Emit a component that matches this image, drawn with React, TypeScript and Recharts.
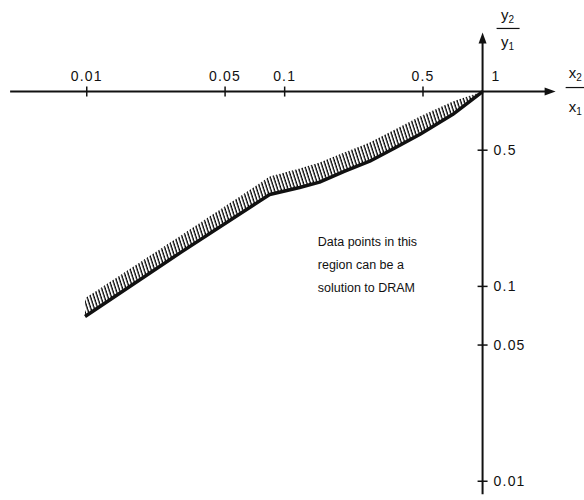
import React from 'react'
import { ComposedChart, Area, Line, XAxis, YAxis, ReferenceLine, ReferenceDot } from 'recharts'

// boundary of the DRAM region
const X_VALUES = [0.0098, 0.03, 0.084, 0.119, 0.15, 0.2, 0.269, 0.36, 0.481, 0.705, 1]
const LOWER = [0.07, 0.15, 0.296, 0.322, 0.343, 0.389, 0.439, 0.513, 0.602, 0.762, 1]
const UPPER = [0.087, 0.183, 0.366, 0.403, 0.432, 0.487, 0.548, 0.638, 0.744, 0.889, 1]
const X_TICKS = [0.01, 0.05, 0.1, 0.5]
const Y_TICKS = [0.5, 0.1, 0.05, 0.01]
const NOTE = ['Data points in this', 'region can be a', 'solution to DRAM']

const FONT = '"Liberation Sans", Arial, Helvetica, sans-serif'
const INK = '#111'

const data = X_VALUES.map((x, i) => ({ x, low: LOWER[i], band: [LOWER[i], UPPER[i]] }))

const XTick = ({ cx, cy, label }: any) => (
  <g>
    <line x1={cx} y1={cy - 5} x2={cx} y2={cy + 5} stroke={INK} strokeWidth={1.5} />
    <text x={cx} y={cy - 11} textAnchor="middle" fontSize={14} letterSpacing={1.2} fontFamily={FONT} fill={INK}>{label}</text>
  </g>
)

const YTick = ({ cx, cy, label }: any) => (
  <g>
    <line x1={cx - 5} y1={cy} x2={cx + 5} y2={cy} stroke={INK} strokeWidth={1.5} />
    <text x={cx + 11} y={cy + 5} fontSize={14} letterSpacing={1.2} fontFamily={FONT} fill={INK}>{label}</text>
  </g>
)

const ArrowUp = ({ cx, cy }: any) => (
  <g>
    <path d={`M${cx},${cy} L${cx - 4},${cy + 11} L${cx + 4},${cy + 11} Z`} fill={INK} />
    <text x={cx + 25} y={cy - 12} textAnchor="middle" fontSize={15} fontFamily={FONT} fill={INK}>
      y<tspan fontSize={10} dy={3}>2</tspan>
    </text>
    <line x1={cx + 14} y1={cy - 4} x2={cx + 37} y2={cy - 4} stroke={INK} strokeWidth={1.2} />
    <text x={cx + 25} y={cy + 15} textAnchor="middle" fontSize={15} fontFamily={FONT} fill={INK}>
      y<tspan fontSize={10} dy={3}>1</tspan>
    </text>
  </g>
)

const ArrowRight = ({ cx, cy }: any) => (
  <g>
    <path d={`M${cx},${cy} L${cx - 11},${cy - 4} L${cx - 11},${cy + 4} Z`} fill={INK} />
    <text x={cx + 13} y={cy - 14} fontSize={15} fontFamily={FONT} fill={INK}>
      x<tspan fontSize={10} dy={3}>2</tspan>
    </text>
    <line x1={cx + 10} y1={cy - 4} x2={cx + 40} y2={cy - 4} stroke={INK} strokeWidth={1.2} />
    <text x={cx + 13} y={cy + 20} fontSize={15} fontFamily={FONT} fill={INK}>
      x<tspan fontSize={10} dy={3}>1</tspan>
    </text>
  </g>
)

const Note = ({ cx, cy }: any) => (
  <text x={cx} y={cy} fontSize={12.5} fontFamily={FONT} fill={INK}>
    {NOTE.map((t, i) => (
      <tspan key={i} x={cx} dy={i === 0 ? 0 : 23}>{t}</tspan>
    ))}
  </text>
)

export default function App() {
  return (
    <div style={{ position: 'absolute', left: 0, top: 0, width: 584, height: 500, background: '#fff' }}>
      <svg width={0} height={0} style={{ position: 'absolute' }}>
        <defs>
          <pattern id="hatch" width="3.3" height="12" patternUnits="userSpaceOnUse" patternTransform="rotate(-18)">
            <line x1="1" y1="0" x2="1" y2="12" stroke="#000" strokeWidth={1.3} />
          </pattern>
        </defs>
      </svg>
      <ComposedChart width={584} height={500} data={data} margin={{ top: 14, right: 7, bottom: 5, left: 8 }}>
        <XAxis dataKey="x" type="number" scale="log" domain={[0.004, 3]} allowDataOverflow hide />
        <YAxis type="number" scale="log" domain={[0.0085, 2.5]} allowDataOverflow hide />

        <ReferenceLine segment={[{ x: 0.0041, y: 1 }, { x: 2.2, y: 1 }]} stroke={INK} strokeWidth={2} ifOverflow="visible" />
        <ReferenceLine segment={[{ x: 1, y: 0.00857 }, { x: 1, y: 1.8 }]} stroke={INK} strokeWidth={2} ifOverflow="visible" />

        <Area dataKey="band" type="linear" stroke="none" fill="url(#hatch)" fillOpacity={1} isAnimationActive={false} />
        <Line dataKey="low" type="linear" stroke={INK} strokeWidth={3.5} strokeLinejoin="round" dot={false} activeDot={false} isAnimationActive={false} />

        {X_TICKS.map(t => (
          <ReferenceDot key={`x${t}`} x={t} y={1} ifOverflow="visible" shape={(p: any) => <XTick {...p} label={String(t)} />} />
        ))}
        <ReferenceDot x={1} y={1} ifOverflow="visible" shape={(p: any) => (
          <text x={p.cx + 9} y={p.cy - 11} fontSize={14} fontFamily={FONT} fill={INK}>1</text>
        )} />
        {Y_TICKS.map(t => (
          <ReferenceDot key={`y${t}`} x={1} y={t} ifOverflow="visible" shape={(p: any) => <YTick {...p} label={String(t)} />} />
        ))}

        <ReferenceDot x={1} y={2.01} ifOverflow="visible" shape={(p: any) => <ArrowUp {...p} />} />
        <ReferenceDot x={2.34} y={1} ifOverflow="visible" shape={(p: any) => <ArrowRight {...p} />} />
        <ReferenceDot x={0.147} y={0.162} ifOverflow="visible" shape={(p: any) => <Note {...p} />} />
      </ComposedChart>
    </div>
  )
}
